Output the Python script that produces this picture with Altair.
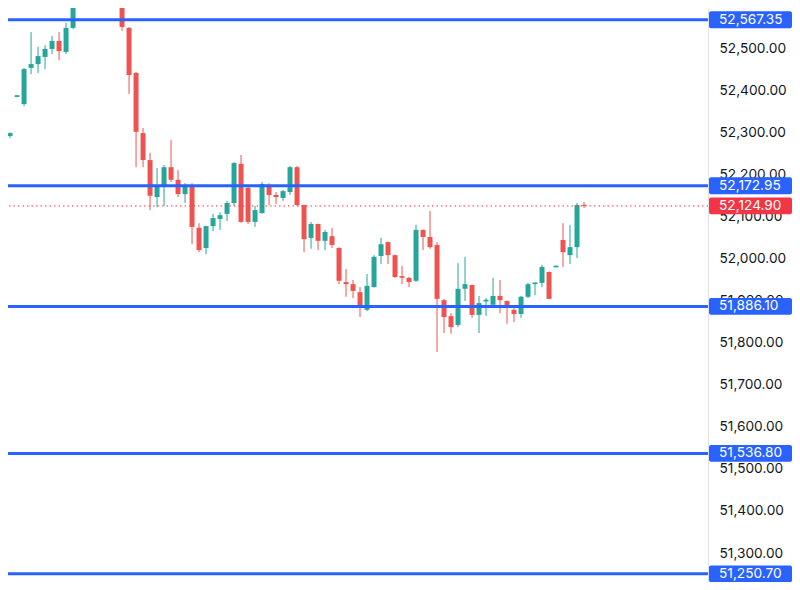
import altair as alt
import pandas as pd

# candle index (one per bar, left to right)
idx = list(range(-1, 83))
opens = [52310, 52291, 52384, 52367, 52453, 52462, 52479, 52498, 52517, 52491,
         52548, 52640, 52680, 52720, 52700, 52690, 52660, 52607, 52548, 52441,
         52298, 52234, 52146, 52170, 52217, 52187, 52153, 52170, 52073, 52025,
         52077, 52094, 52106, 52132, 52225, 52168, 52087, 52108, 52175, 52151,
         52144, 52158, 52217, 52127, 52049, 52082, 52042, 52053, 52025, 51944,
         51939, 51920, 51878, 51932, 52006, 52039, 52008, 51958, 51954, 51947,
         52068, 52051, 52032, 51901, 51863, 51842, 51928, 51937, 51866, 51898,
         51890, 51911, 51899, 51878, 51868, 51909, 51939, 51942, 51968, 51979,
         52044, 52008, 52027, 52127.5]
highs = [52315, 52300, 52388, 52453, 52538, 52503, 52507, 52529, 52538, 52560,
         52660, 52700, 52740, 52750, 52730, 52710, 52680, 52620, 52550, 52443,
         52310, 52251, 52215, 52222, 52282, 52210, 52179, 52179, 52084, 52078,
         52106, 52110, 52137, 52229, 52246, 52170, 52125, 52182, 52179, 52158,
         52163, 52220, 52220, 52128, 52087, 52083, 52068, 52073, 52027, 51975,
         51949, 51932, 51963, 52008, 52049, 52040, 52009, 51982, 51956, 52080,
         52069, 52113, 52039, 51904, 51870, 51989, 52004, 51938, 51911, 51906,
         51954, 51949, 51900, 51882, 51911, 51942, 51943, 51985, 51969, 51983,
         52084, 52080, 52132, 52134]
lows = [52298, 52286, 52383, 52362, 52438, 52441, 52450, 52486, 52472, 52486,
        52545, 52630, 52660, 52680, 52670, 52640, 52604, 52541, 52391, 52217,
        52217, 52115, 52122, 52125, 52182, 52146, 52132, 52034, 52015, 52010,
        52065, 52068, 52089, 52125, 52085, 52082, 52075, 52106, 52127, 52130,
        52137, 52151, 52125, 52015, 52023, 52020, 52020, 52025, 51939, 51909,
        51906, 51861, 51875, 51931, 51987, 51987, 51954, 51939, 51932, 51944,
        52020, 52023, 51778, 51823, 51821, 51837, 51899, 51859, 51823, 51863,
        51887, 51870, 51845, 51849, 51859, 51906, 51913, 51932, 51904, 51979,
        51980, 51987, 52001, 52120]
closes = [52301, 52298, 52388, 52450, 52462, 52481, 52498, 52517, 52493, 52548,
          52640, 52680, 52720, 52700, 52690, 52660, 52607, 52550, 52436, 52301,
          52234, 52149, 52170, 52217, 52187, 52153, 52170, 52075, 52020, 52077,
          52096, 52103, 52132, 52227, 52087, 52087, 52115, 52177, 52151, 52146,
          52160, 52217, 52127, 52046, 52082, 52042, 52063, 52032, 51947, 51939,
          51923, 51885, 51935, 52004, 52034, 52008, 51956, 51954, 51944, 52068,
          52051, 52027, 51904, 51861, 51837, 51928, 51939, 51866, 51894, 51902,
          51911, 51901, 51887, 51868, 51909, 51939, 51943, 51980, 51904, 51983,
          52015, 52027, 52127, 52124.9]

levels = [52567.35, 52172.95, 51886.10, 51536.80, 51250.70]
last_price = 52124.90
tick_values = list(range(51300, 52700, 100))

df = pd.DataFrame({"i": idx, "open": opens, "high": highs, "low": lows, "close": closes})
lv = pd.DataFrame({"price": levels, "label": [f"{v:,.2f}" for v in levels]})
lp = pd.DataFrame({"price": [last_price], "label": [f"{last_price:,.2f}"]})

FONT = "Inter"
FS = 13.7
UP, DOWN, BLUE, RED = "#26a69a", "#ef5350", "#2962ff", "#f23645"

yscale = alt.Scale(domain=[51231.2, 52595.3], nice=False, zero=False)
yaxis = alt.Axis(orient="right", values=tick_values, format=",.2f", ticks=False,
                 grid=False, domain=True, domainColor="#e0e3eb", domainWidth=1,
                 labelFont=FONT, labelFontSize=FS, labelColor="#131722",
                 labelPadding=11, labelAlign="left", labelOverlap=False,
                 labelBound=False, labelFlush=False, title=None, zindex=0)
xenc = alt.X("i:Q", scale=alt.Scale(domain=[0.42, 99.0], nice=False, zero=False), axis=None)
color = alt.condition("datum.close >= datum.open", alt.value(UP), alt.value(DOWN))

base = alt.Chart(df)
wicks = base.mark_rule(strokeWidth=1, clip=True).encode(
    x=xenc, y=alt.Y("low:Q", scale=yscale, axis=yaxis), y2="high:Q", color=color)
bodies = base.mark_bar(size=5, clip=True).encode(
    x=xenc, y=alt.Y("open:Q", scale=yscale, axis=yaxis), y2="close:Q", color=color)

last_line = alt.Chart(lp).mark_rule(color=RED, strokeWidth=1, strokeDash=[1.5, 3]).encode(
    y=alt.Y("price:Q", scale=yscale, axis=yaxis))
level_lines = alt.Chart(lv).mark_rule(color=BLUE, strokeWidth=3).encode(
    y=alt.Y("price:Q", scale=yscale, axis=yaxis))

def tag(data, fill):
    box = alt.Chart(data).transform_calculate(
        y0="datum.price - 20", y1="datum.price + 20"
    ).mark_rect(color=fill, cornerRadius=2).encode(
        x=alt.value(701), x2=alt.value(784),
        y=alt.Y("y0:Q", scale=yscale, axis=yaxis), y2="y1:Q")
    txt = alt.Chart(data).mark_text(align="left", baseline="middle", color="white",
                                    font=FONT, fontSize=FS).encode(
        x=alt.value(711), y=alt.Y("price:Q", scale=yscale, axis=yaxis), text="label:N")
    return box + txt

chart = alt.layer(
    wicks, bodies, last_line, level_lines, tag(lp, RED), tag(lv, BLUE)
).properties(
    width=700, height=574,
    autosize=alt.AutoSizeParams(type="none"),
    padding={"left": 0, "top": 0, "right": 84, "bottom": 0},
    background="white",
).configure_view(stroke=None)

chart.save("out.html", embed_options={"renderer": "svg", "actions": False})
